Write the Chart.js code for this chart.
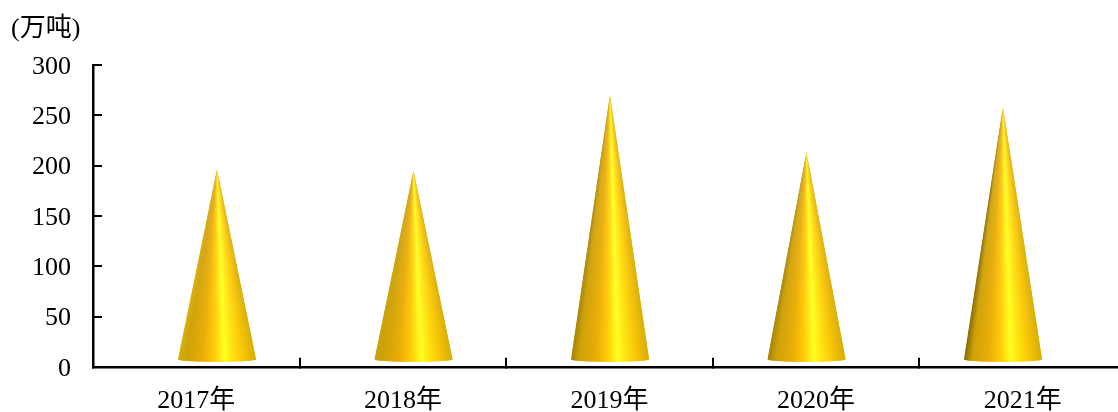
<!DOCTYPE html>
<html><head><meta charset="utf-8">
<style>html,body{margin:0;padding:0;background:#fff;overflow:hidden;width:1118px;height:412px}
#w{position:absolute;left:0;top:0;width:1140px;height:445px}</style>
<script src="https://cdn.jsdelivr.net/npm/chart.js@4"></script></head>
<body><div id="w"><canvas id="c" width="1140" height="445"></canvas></div>
<script>
const categories=['2017年','2018年','2019年','2020年','2021年'];
const values=[196,195,270,213,258];
const yTicks=[0,50,100,150,200,250,300];
const unitLabel='(万吨)';
const FONT='"Liberation Serif","Noto Sans CJK SC",serif';
const edgeShades=[[214,172,0],[200,160,0],[165,130,0],[165,130,0],[135,106,0]];
const stops=[[.1,[205,160,0]],[.3,[232,170,0]],[.45,[255,198,0]],[.54,[255,232,15]],[.6,[255,255,30]],[.68,[255,232,15]],[.84,[248,196,0]],[1,[214,172,0]]];
function shade(t,edge){
 let a=[0,edge];
 for(const s of stops){
  if(t<=s[0]){const k=(t-a[0])/(s[0]-a[0]);
   return 'rgb('+[0,1,2].map(i=>Math.round(a[1][i]+(s[1][i]-a[1][i])*k)).join(',')+')';}
  a=s;
 }
 return 'rgb('+a[1].join(',')+')';
}
const conePlugin={id:'cones',
 afterDatasetsDraw(ch){
  const c=ch.ctx,meta=ch.getDatasetMeta(0);
  const hw=39,baseLift=6.5,ry=2.5,N=160;
  c.save();
  meta.data.forEach((el,idx)=>{
   const x=el.x,top=el.y,by=el.base-baseLift;
   const pt=u=>[x+hw*u,by+ry*Math.sqrt(Math.max(0,1-u*u))];
   for(let i=0;i<N;i++){
    const u0=-1+2*i/N,u1=Math.min(1,-1+2*(i+2)/N);
    c.fillStyle=shade(i/N,edgeShades[idx]);
    c.beginPath();c.moveTo(x,top);
    for(let k=0;k<=4;k++){const p=pt(u0+(u1-u0)*k/4);c.lineTo(p[0],p[1]);}
    c.closePath();c.fill();
   }
  });
  c.restore();
 },
 afterDraw(ch){
  const c=ch.ctx;c.save();c.fillStyle='#000';c.font='26px '+FONT;c.textAlign='left';c.textBaseline='middle';
  c.fillText(unitLabel,11,29);c.restore();
 }};
new Chart(document.getElementById('c'),{
 type:'bar',
 data:{labels:categories,datasets:[{data:values.map((v,i)=>({x:i,y:v})),xAxisID:'cx',yAxisID:'y',
  backgroundColor:'rgba(0,0,0,0)',borderWidth:0,barThickness:78}]},
 options:{responsive:false,animation:false,
  layout:{padding:{left:0,right:14,top:65,bottom:0}},
  plugins:{legend:{display:false},tooltip:{enabled:false}},
  scales:{
   x:{type:'category',position:'bottom',
     grid:{drawOnChartArea:false,drawTicks:true,tickLength:-9,color:'#000',lineWidth:2,offset:true},
     border:{display:true,color:'#000',width:2.5},
     ticks:{color:'#000',font:{family:FONT,size:26},padding:28,maxRotation:0,autoSkip:false}},
   cx:{type:'linear',display:false,offset:false,min:-0.631,max:4.626},
   y:{min:0,max:300,afterBuildTicks(a){a.ticks=yTicks.map(v=>({value:v}))},
     afterFit(a){a.width=93},
     grid:{drawOnChartArea:false,drawTicks:true,tickLength:-9,color:'#000',lineWidth:2},
     border:{display:true,color:'#000',width:2.5},
     ticks:{color:'#000',font:{family:FONT,size:26},padding:31,labelOffset:2}}
  }},
 plugins:[conePlugin]});
</script></body></html>
